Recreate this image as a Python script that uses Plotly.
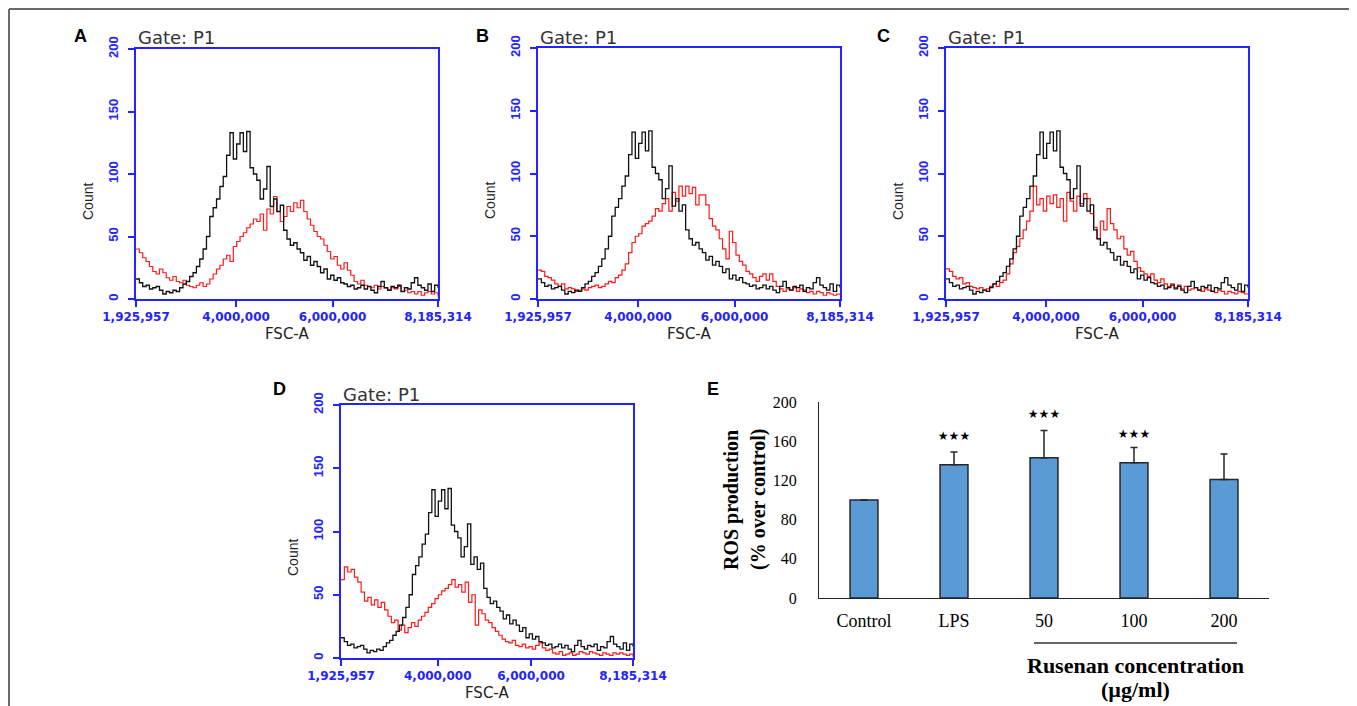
import numpy as np
import plotly.graph_objects as go

W, H = 1357, 706
OFF = 8  # page body margin of the html page

# ---------------- data ----------------
FSC_MIN, FSC_MAX = 1925957, 8185314
fsc_tickvals = [1925957, 4000000, 6000000, 8185314]
fsc_ticktext = ["1,925,957", "4,000,000", "6,000,000", "8,185,314"]
count_tickvals = [0, 50, 100, 150, 200]

# control histogram (black), identical in panels A-D
control_counts = [16, 13, 10, 11, 8, 9, 10, 7, 4, 6, 5, 7, 6, 9, 12, 14, 18, 21, 26, 32,
                  40, 50, 66, 73, 80, 90, 98, 115, 133, 112, 124, 133, 118, 134, 105, 100, 95, 80, 88, 106,
                  74, 80, 70, 75, 55, 48, 43, 45, 40, 37, 31, 34, 27, 30, 26, 21, 24, 16, 19, 15,
                  17, 13, 12, 10, 11, 8, 9, 11, 8, 10, 7, 5, 10, 14, 9, 7, 10, 9, 11, 6,
                  9, 8, 13, 17, 11, 9, 7, 12, 6, 11, 9]

# treated histograms (red)
red_A = [40, 37, 33, 30, 26, 22, 20, 24, 21, 17, 15, 18, 14, 13, 15, 11, 10, 9, 11, 13,
         10, 12, 16, 20, 24, 27, 32, 35, 30, 42, 46, 50, 53, 57, 60, 64, 62, 68, 55, 72,
         68, 82, 70, 62, 66, 74, 70, 77, 73, 79, 70, 64, 59, 54, 50, 48, 43, 38, 32, 34,
         27, 24, 29, 23, 19, 14, 12, 15, 11, 10, 9, 11, 8, 10, 9, 7, 9, 8, 10, 6,
         7, 5, 6, 4, 6, 3, 5, 6, 4, 5, 2]
red_B = [23, 22, 18, 17, 15, 12, 10, 12, 8, 9, 8, 6, 7, 8, 7, 9, 10, 11, 9, 10,
         12, 14, 13, 17, 19, 23, 28, 37, 45, 50, 52, 58, 60, 62, 66, 72, 70, 76, 80, 70,
         85, 78, 90, 82, 90, 84, 89, 75, 83, 83, 75, 64, 58, 55, 48, 40, 32, 54, 45, 35,
         30, 27, 22, 20, 17, 14, 18, 20, 15, 20, 14, 10, 8, 6, 8, 7, 9, 6, 8, 7,
         5, 6, 4, 6, 5, 3, 5, 4, 3, 4, 3]
red_C = [24, 22, 18, 16, 17, 12, 13, 10, 9, 8, 9, 7, 8, 10, 12, 10, 13, 15, 20, 28,
         37, 42, 48, 55, 62, 70, 90, 75, 80, 70, 82, 76, 83, 73, 80, 62, 85, 78, 70, 82,
         76, 84, 80, 68, 57, 48, 62, 55, 72, 60, 55, 48, 50, 40, 35, 38, 30, 25, 22, 20,
         18, 20, 15, 13, 16, 12, 10, 12, 9, 11, 8, 10, 7, 8, 9, 7, 6, 8, 7, 6,
         5, 7, 6, 4, 6, 5, 4, 6, 5, 4, 4]
red_D = [62, 72, 68, 70, 64, 60, 52, 45, 48, 42, 46, 40, 44, 38, 33, 28, 30, 22, 26, 20,
         24, 28, 25, 30, 33, 36, 40, 43, 47, 50, 53, 55, 58, 62, 56, 58, 52, 60, 44, 50,
         26, 38, 35, 30, 28, 24, 21, 18, 15, 13, 12, 14, 10, 9, 11, 8, 9, 7, 10, 12,
         8, 6, 7, 4, 3, 5, 2, 3, 4, 2, 3, 5, 4, 3, 5, 4, 3, 2, 4, 3,
         2, 4, 3, 4, 3, 2, 3, 1]

panel_names = ["A", "B", "C", "D"]
red_series = [red_A, red_B, red_C, red_D]

# bar chart (E)
categories = ["Control", "LPS", "50", "100", "200"]
ros_mean = [100, 136, 143, 138, 121]
ros_err = [0, 13, 28, 15.5, 26]
star_cats = ["LPS", "50", "100"]
star_y = [164, 187, 166]
ros_tickvals = [0, 40, 80, 120, 160, 200]

# ---------------- layout helpers (screen pixels -> paper) ----------------
def px(x):
    return (x - OFF) / W

def py(y):
    return 1 - (y - OFF) / H

def xd(a, b):
    return [px(a), px(b)]

def yd(top, bottom):
    return [py(bottom), py(top)]

def note(x, y, text, font, angle=0, xanchor="center"):
    return dict(x=px(x), y=py(y), xref="paper", yref="paper", text=text, showarrow=False,
                textangle=angle, xanchor=xanchor, yanchor="middle", font=font)

BLUE = "#2323ff"
# plot boxes in screen pixels: (left, right, top, bottom)
boxes = [(136, 438, 49, 299), (538, 840, 48, 299), (946, 1248, 48, 299), (341, 633, 405, 658)]
letters_pos = [(80, 36), (482, 36), (883, 36), (279, 389)]

fig = go.Figure()
layout_axes = {}
annotations = []

for i, (name, red, box) in enumerate(zip(panel_names, red_series, boxes)):
    k = i + 1
    xa, ya = ("x" if k == 1 else f"x{k}"), ("y" if k == 1 else f"y{k}")
    xb = np.linspace(FSC_MIN, FSC_MAX, len(control_counts))
    xr = np.linspace(FSC_MIN, FSC_MAX, len(red))
    fig.add_trace(go.Scatter(x=xr, y=red, mode="lines", line=dict(color="#ff1a1a", width=1.2, shape="hv"),
                             xaxis=xa, yaxis=ya, hoverinfo="skip"))
    fig.add_trace(go.Scatter(x=xb, y=control_counts, mode="lines", line=dict(color="#111111", width=1.3, shape="hv"),
                             xaxis=xa, yaxis=ya, hoverinfo="skip"))
    l, r, t, b = box
    layout_axes["xaxis" if k == 1 else f"xaxis{k}"] = dict(
        domain=xd(l, r), anchor=ya, range=[FSC_MIN, FSC_MAX], tickvals=fsc_tickvals, ticktext=fsc_ticktext,
        showline=True, mirror=True, linecolor=BLUE, linewidth=2, ticks="outside", ticklen=6, tickwidth=1.5,
        tickcolor=BLUE, showgrid=False, zeroline=False, tickangle=0, automargin=False,
        tickfont=dict(family="DejaVu Sans", size=12, color=BLUE, weight="bold"))
    layout_axes["yaxis" if k == 1 else f"yaxis{k}"] = dict(
        domain=yd(t, b), anchor=xa, range=[0, 200], tickvals=count_tickvals,
        showline=True, mirror=True, linecolor=BLUE, linewidth=2, ticks="outside", ticklen=6, tickwidth=1.5,
        tickcolor=BLUE, showgrid=False, zeroline=False, tickangle=-90, automargin=False,
        ticklabelstandoff=5,
        tickfont=dict(family="Liberation Sans", size=13, color=BLUE, weight="bold"))
    # texts
    annotations.append(note(l, t - 11, "Gate: P1", dict(family="DejaVu Sans", size=18, color="#333333"),
                            xanchor="left"))
    annotations.append(note((l + r) / 2, b + 35, "FSC-A", dict(family="DejaVu Sans", size=15, color="#222222")))
    annotations.append(note(l - 48, t + 153, "Count", dict(family="Liberation Sans", size=14, color="#222222"),
                            angle=-90))
    lx, ly = letters_pos[i]
    annotations.append(note(lx, ly, f"<b>{name}</b>", dict(family="Liberation Sans", size=18, color="black")))

# ---------------- panel E ----------------
fig.add_trace(go.Bar(x=categories, y=ros_mean, width=0.31,
                     marker=dict(color="#5b9bd5", line=dict(color="#262626", width=1.5)),
                     error_y=dict(type="data", array=ros_err, arrayminus=[0] * len(ros_err), symmetric=False,
                                  color="#262626", thickness=1.5, width=3.5),
                     xaxis="x5", yaxis="y5", hoverinfo="skip"))
fig.add_trace(go.Scatter(x=star_cats, y=star_y, mode="text", text=["★★★"] * len(star_cats),
                         textfont=dict(family="DejaVu Sans", size=12, color="black"),
                         xaxis="x5", yaxis="y5", hoverinfo="skip"))
layout_axes["xaxis5"] = dict(domain=xd(819, 1269), anchor="y5", type="category", range=[-0.5, 4.5],
                             showline=True, linecolor="#222222", linewidth=1.3, ticks="", showgrid=False,
                             ticklabelstandoff=6, automargin=False,
                             tickfont=dict(family="Liberation Serif", size=18, color="black"))
layout_axes["yaxis5"] = dict(domain=yd(402, 598), anchor="x5", range=[0, 200], tickvals=ros_tickvals,
                             showline=True, linecolor="#222222", linewidth=1.3, ticks="", showgrid=False,
                             zeroline=False, ticklabelstandoff=18, automargin=False,
                             tickfont=dict(family="Liberation Serif", size=16, color="black"))
serif_b20 = dict(family="Liberation Serif", size=20, color="black")
serif_b22 = dict(family="Liberation Serif", size=22, color="black")
annotations += [
    note(713, 389, "<b>E</b>", dict(family="Liberation Sans", size=18, color="black")),
    note(731, 500, "<b>ROS production</b>", serif_b20, angle=-90),
    note(758, 500, "<b>(% over control)</b>", serif_b20, angle=-90),
    note(1135, 665, "<b>Rusenan concentration</b>", serif_b22),
    note(1135, 689, "<b>(µg/ml)</b>", serif_b22),
]

shapes = [
    dict(type="line", xref="paper", yref="paper", x0=px(1034), x1=px(1237), y0=py(643), y1=py(643),
         line=dict(color="#333333", width=1.3)),
    # outer frame (open at bottom)
    dict(type="line", xref="paper", yref="paper", x0=px(9), x1=px(9), y0=py(9), y1=0,
         line=dict(color="#6a6a6a", width=2)),
    dict(type="line", xref="paper", yref="paper", x0=px(9), x1=px(1353), y0=py(9), y1=py(9),
         line=dict(color="#6a6a6a", width=2)),
    dict(type="line", xref="paper", yref="paper", x0=px(1353), x1=px(1353), y0=py(9), y1=0,
         line=dict(color="#6a6a6a", width=2)),
]

fig.update_layout(width=W, height=H, margin=dict(l=0, r=0, t=0, b=0, autoexpand=False), showlegend=False,
                  paper_bgcolor="white", plot_bgcolor="white", annotations=annotations, shapes=shapes,
                  **layout_axes)

fig.write_html("out.html")
